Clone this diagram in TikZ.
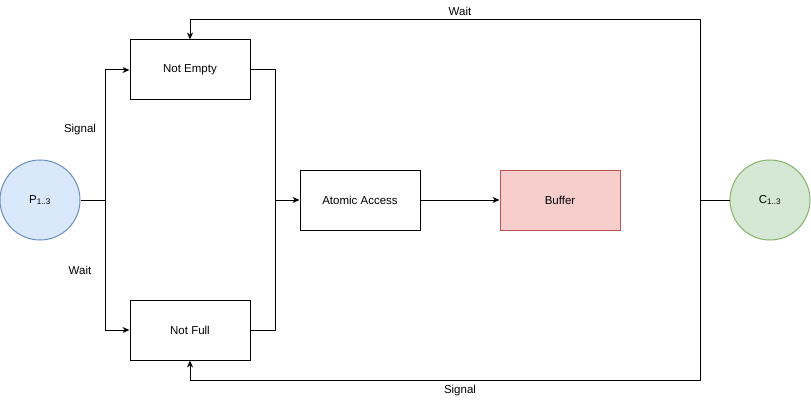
\documentclass[tikz,border=0pt]{standalone}
\usepackage{fontspec}
\setmainfont{Liberation Sans}
\usetikzlibrary{arrows.meta,calc}
\definecolor{pfill}{HTML}{DAE8FC}\definecolor{pdraw}{HTML}{6C8EBF}
\definecolor{cfill}{HTML}{D5E8D4}\definecolor{cdraw}{HTML}{82B366}
\definecolor{bfill}{HTML}{F8CECC}\definecolor{bdraw}{HTML}{B85450}
\tikzset{
  base/.style={font=\fontsize{11.5}{13}\selectfont, line width=1pt, inner sep=0pt},
  boxnode/.style={base, draw=black, minimum width=120pt, minimum height=60pt},
  procnode/.style={base, circle, minimum size=80pt},
  conn/.style={line width=1pt, draw=black},
  arr/.style={conn, -{Stealth[length=7pt,width=6pt]}},
  lbl/.style={font=\fontsize{11.5}{13}\selectfont, inner sep=0pt}
}
\begin{document}
\begin{tikzpicture}[x=1pt,y=-1pt]
\useasboundingbox (0,0) rectangle (811,401);
\node[procnode, fill=pfill, draw=pdraw] (P) at (40,200) {P\textsubscript{1..3}};
\node[procnode, fill=cfill, draw=cdraw] (C) at (770,200) {C\textsubscript{1..3}};
\node[boxnode] (ne) at (190,70) {Not Empty};
\node[boxnode] (nf) at (190,330) {Not Full};
\node[boxnode] (aa) at (360,200) {Atomic Access};
\node[boxnode, fill=bfill, draw=bdraw] (buf) at (560,200) {Buffer};
\coordinate (pj) at (105,200);
\coordinate (mj) at (275,200);
\coordinate (cj) at (700,200);
\draw[conn] (P.east) -- (pj);
\draw[arr] (pj) |- (ne.west);
\draw[arr] (pj) |- (nf.west);
\draw[conn] (ne.east) -| (mj);
\draw[conn] (nf.east) -| (mj);
\draw[arr] (mj) -- (aa.west);
\draw[arr] (aa.east) -- (buf.west);
\draw[conn] (C.west) -- (cj);
\draw[arr] (cj) |- ([yshift=20pt]ne.north) -- (ne.north);
\draw[arr] (cj) |- ([yshift=-20pt]nf.south) -- (nf.south);
\node[lbl] (l1) at (460,11) {Wait};
\node[lbl] (l2) at (460,391) {Signal};
\node[lbl] (l3) at (80,130) {Signal};
\node[lbl] (l4) at (80,270) {Wait};
\end{tikzpicture}
\end{document}
